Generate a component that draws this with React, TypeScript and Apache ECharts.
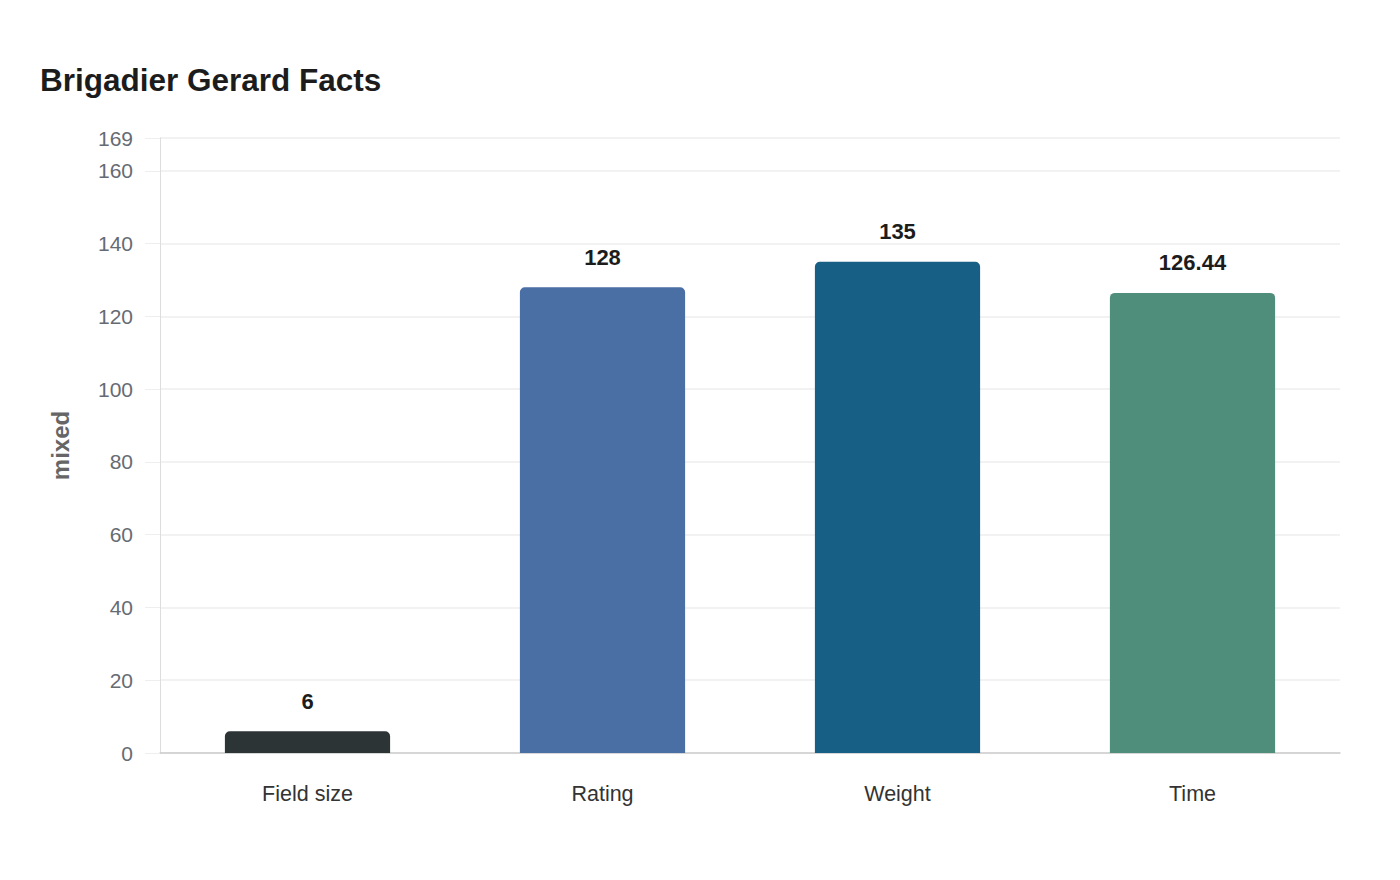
import React, { useEffect, useRef } from "react";
import * as echarts from "echarts";

const categories = ["Field size", "Rating", "Weight", "Time"];
const values = [6, 128, 135, 126.44];
const barColors = ["#2d3436", "#4a6fa5", "#185f85", "#4e8e7b"];
const yMax = 169;

const FONT = "Liberation Sans, Arial, sans-serif";

export default function App() {
  const ref = useRef<HTMLDivElement>(null);

  useEffect(() => {
    if (!ref.current) return;
    const chart = echarts.init(ref.current, undefined, { renderer: "svg" });
    chart.setOption({
      animation: false,
      backgroundColor: "#ffffff",
      title: {
        text: "Brigadier Gerard Facts",
        left: 35,
        top: 59,
        textStyle: {
          fontFamily: FONT,
          fontSize: 31.5,
          fontWeight: "bold",
          color: "#1c1c1c",
        },
      },
      grid: { left: 160, right: 60, top: 138, bottom: 127, containLabel: false },
      xAxis: {
        type: "category",
        data: categories,
        axisLine: { show: true, lineStyle: { color: "#cccccc", width: 1.5 } },
        axisTick: { show: false },
        axisLabel: {
          margin: 30,
          fontFamily: FONT,
          fontSize: 21.5,
          color: "#333333",
        },
      },
      yAxis: {
        type: "value",
        min: 0,
        max: yMax,
        interval: 20,
        name: "mixed",
        nameLocation: "middle",
        nameRotate: 90,
        nameGap: 88,
        nameTextStyle: {
          fontFamily: FONT,
          fontSize: 24,
          fontWeight: "bold",
          color: "#666666",
        },
        axisLine: { show: true, lineStyle: { color: "#dddddd", width: 1 } },
        axisTick: { show: true, length: 15, lineStyle: { color: "#eeeeee" } },
        axisLabel: {
          margin: 27,
          fontFamily: FONT,
          fontSize: 21,
          color: "#666b73",
        },
        splitLine: { show: true, lineStyle: { color: "#eeeeee", width: 1.5 } },
      },
      series: [
        {
          type: "bar",
          barWidth: "56%",
          data: values.map((v, i) => ({
            value: v,
            itemStyle: { color: barColors[i], borderRadius: [5, 5, 0, 0] },
          })),
          label: {
            show: true,
            position: "top",
            distance: 19,
            fontFamily: FONT,
            fontSize: 22,
            fontWeight: "bold",
            color: "#1c1c1c",
          },
        },
      ],
    });
    return () => chart.dispose();
  }, []);

  return <div ref={ref} style={{ width: 1400, height: 880, margin: -8 }} />;
}
